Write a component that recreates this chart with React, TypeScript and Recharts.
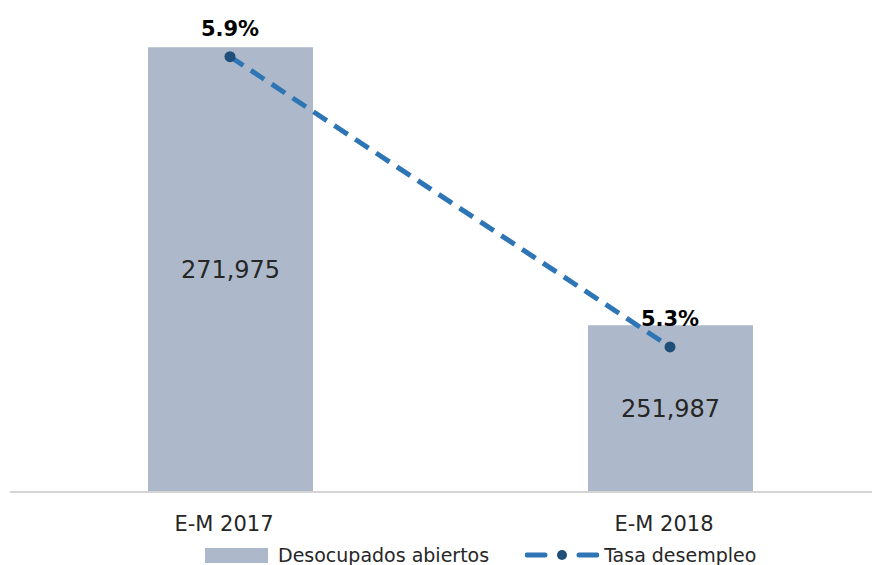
import React from "react";
import {
  Bar,
  ComposedChart,
  LabelList,
  Legend,
  Line,
  XAxis,
  YAxis,
} from "recharts";

const periods = ["E-M 2017", "E-M 2018"];
const desocupados = [271975, 251987];
const tasa = [5.9, 5.3];

const data = periods.map((p, i) => ({
  periodo: p,
  desocupados: desocupados[i],
  tasa: tasa[i],
}));

const FONT = "'DejaVu Sans', sans-serif";
const BAR_COLOR = "#adb9ca";
const LINE_COLOR = "#2e75b6";
const DOT_COLOR = "#1f4e79";

const Tick = (props: any) => {
  const { x, y, payload } = props;
  return (
    <text x={x - 6} y={y + 37} textAnchor="middle" fontFamily={FONT} fontSize={21} fill="#262626">
      {payload.value}
    </text>
  );
};

const PctLabel = (props: any) => {
  const { x, y, value } = props;
  return (
    <text x={x} y={y - 21} textAnchor="middle" fontFamily={FONT} fontSize={21} fontWeight="bold" fill="#000">
      {value.toFixed(1)}%
    </text>
  );
};

const LegendBox = () => (
  <div
    style={{
      display: "flex",
      alignItems: "center",
      height: 22,
      lineHeight: "22px",
      paddingLeft: 197,
      position: "relative",
      top: 1,
      fontFamily: FONT,
      fontSize: 19,
      color: "#262626",
    }}
  >
    <span style={{ width: 63, height: 15, background: BAR_COLOR, display: "inline-block" }} />
    <span style={{ marginLeft: 10 }}>Desocupados abiertos</span>
    <svg width={74} height={16} style={{ marginLeft: 36 }}>
      <line x1={2} y1={8} x2={20} y2={8} stroke={LINE_COLOR} strokeWidth={5} strokeLinecap="round" />
      <circle cx={37} cy={8} r={5} fill={DOT_COLOR} />
      <line x1={54} y1={8} x2={72} y2={8} stroke={LINE_COLOR} strokeWidth={5} strokeLinecap="round" />
    </svg>
    <span style={{ marginLeft: 5 }}>Tasa desempleo</span>
  </div>
);

export default function App() {
  return (
    <div style={{ width: 872, height: 557, overflow: "hidden" }}>
      <ComposedChart
        width={882}
        height={557}
        data={data}
        margin={{ top: 39, right: 0, left: 2, bottom: 0 }}
      >
        <XAxis
          dataKey="periodo"
          axisLine={{ stroke: "#d4d4d4", strokeWidth: 2 }}
          tickLine={false}
          tickSize={0}
          tick={<Tick />}
          height={51}
          interval={0}
        />
        <YAxis yAxisId="left" hide domain={[240000, 272000]} allowDataOverflow />
        <YAxis yAxisId="right" hide orientation="right" domain={[5, 5.92]} allowDataOverflow />
        <Legend verticalAlign="bottom" content={<LegendBox />} wrapperStyle={{ left: 0, width: 872 }} />
        <Bar
          yAxisId="left"
          dataKey="desocupados"
          name="Desocupados abiertos"
          fill={BAR_COLOR}
          barSize={165}
          isAnimationActive={false}
        >
          <LabelList
            dataKey="desocupados"
            position="center"
            formatter={(v: any) => Number(v).toLocaleString("en-US")}
            style={{ fontFamily: FONT, fontSize: 24, fill: "#262626" }}
          />
        </Bar>
        <Line
          yAxisId="right"
          dataKey="tasa"
          name="Tasa desempleo"
          stroke={LINE_COLOR}
          strokeWidth={5}
          strokeDasharray="16 9"
          dot={{ r: 5.5, fill: DOT_COLOR, stroke: DOT_COLOR, strokeWidth: 0 }}
          activeDot={false}
          isAnimationActive={false}
        >
          <LabelList dataKey="tasa" content={<PctLabel />} />
        </Line>
      </ComposedChart>
    </div>
  );
}
